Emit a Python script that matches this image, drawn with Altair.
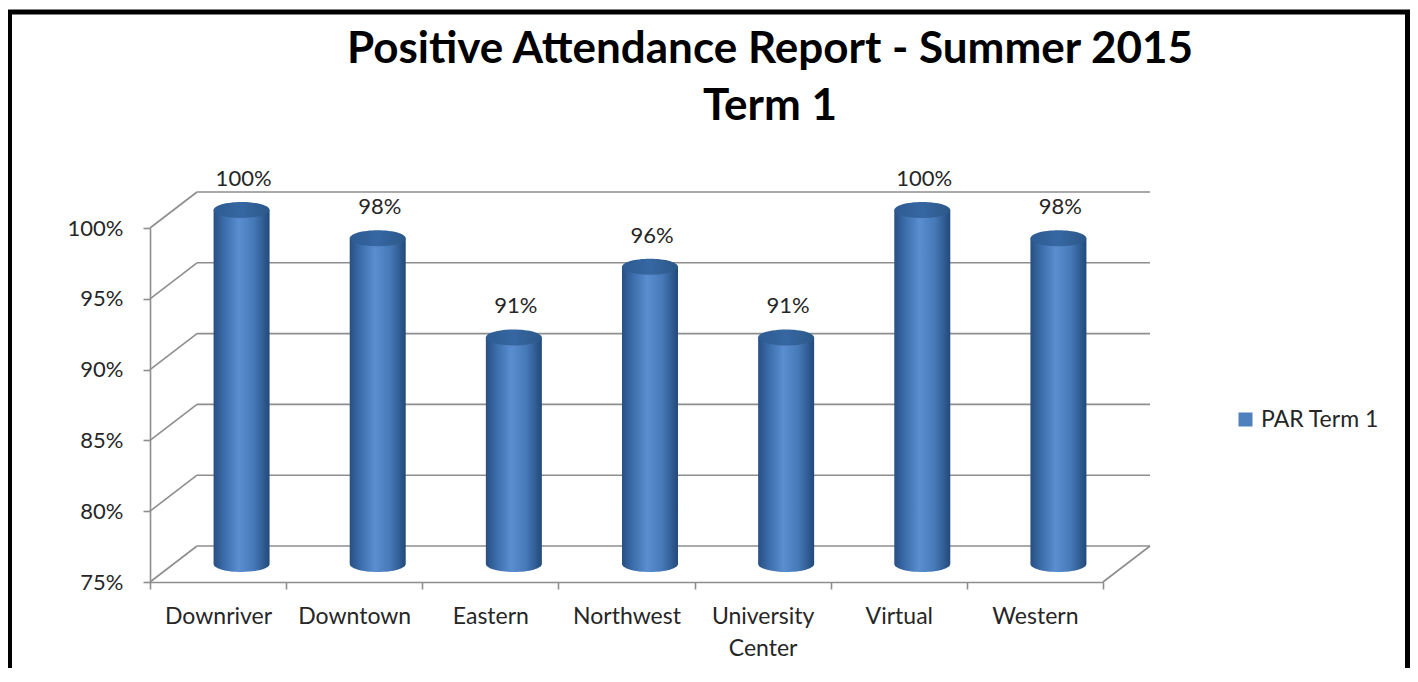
import altair as alt
import pandas as pd

# ---- data ----
categories = ["Downriver", "Downtown", "Eastern", "Northwest",
              "University Center", "Virtual", "Western"]
values = [100, 98, 91, 96, 91, 100, 98]
series = ["PAR Term 1"] * len(categories)
y_ticks = [75, 80, 85, 90, 95, 100]
title_lines = ["Positive Attendance Report - Summer 2015", "Term 1"]

df = pd.DataFrame({"site": categories, "pct": values, "series": series})
grid_df = pd.DataFrame({"tick": y_ticks})

# ---- layout / style ----
W, H = 953, 354
DX, DY = 47, -36          # depth of the 3D box
BX, BY = DX / 2, DY / 2   # bars sit at mid depth
FONT = "Lato"
GRID = "#8e8e8e"
TXT = "#262626"
BAR_W = 56

bar_grad = {
    "gradient": "linear", "x1": 0, "x2": 1, "y1": 0, "y2": 0,
    "stops": [
        {"offset": 0.0, "color": "#284f82"},
        {"offset": 0.18, "color": "#3a6ba9"},
        {"offset": 0.45, "color": "#5a8ed0"},
        {"offset": 0.72, "color": "#4679b8"},
        {"offset": 1.0, "color": "#22497a"},
    ],
}
top_grad = {
    "gradient": "linear", "x1": 0, "x2": 1, "y1": 0, "y2": 0,
    "stops": [
        {"offset": 0.0, "color": "#2d5b92"},
        {"offset": 0.5, "color": "#3767a2"},
        {"offset": 1.0, "color": "#2b5889"},
    ],
}
k = 0.286
c = 0.5523
ELLIPSE = (f"M -1 0 C -1 {-c*k:.4f} {-c:.4f} {-k} 0 {-k} "
           f"C {c:.4f} {-k} 1 {-c*k:.4f} 1 0 "
           f"C 1 {c*k:.4f} {c:.4f} {k} 0 {k} "
           f"C {-c:.4f} {k} -1 {c*k:.4f} -1 0 Z")
HALF = (f"M -1 0 C -1 {c*k:.4f} {-c:.4f} {k} 0 {k} "
        f"C {c:.4f} {k} 1 {c*k:.4f} 1 0 Z")

xscale = alt.Scale(domain=categories, paddingInner=0, paddingOuter=0)
yscale = alt.Scale(domain=[75, 100], nice=False, zero=False)

xaxis = alt.Axis(
    title=None, labelAngle=0, labelFont=FONT, labelFontSize=23, labelColor=TXT,
    domainColor=GRID, domainWidth=1.6, tickColor=GRID, tickWidth=1.6, tickSize=7,
    tickBand="extent", labelPadding=16, labelLineHeight=32,
    labelExpr="datum.value == 'University Center' ? ['University', 'Center'] : datum.value",
)
yaxis = alt.Axis(
    title=None, values=y_ticks, grid=False, labelFont=FONT, labelFontSize=22,
    labelColor=TXT, domainColor=GRID, domainWidth=1.6, tickColor=GRID,
    tickWidth=1.6, tickSize=7, labelPadding=20, labelExpr="datum.value + '%'",
)

X = alt.X("site:N", scale=xscale, axis=xaxis)

def Yf(field):
    return alt.Y(f"{field}:Q", scale=yscale, axis=yaxis)

# back wall gridlines
back = alt.Chart(grid_df).mark_rule(color=GRID, strokeWidth=1.6, yOffset=DY).encode(
    y=Yf("tick"), x=alt.value(DX), x2=alt.value(W + DX)
)
# left side-wall diagonals
diag = alt.Chart(grid_df).mark_rule(color=GRID, strokeWidth=1.6, y2Offset=DY).encode(
    y=Yf("tick"), y2=alt.Y2("tick"), x=alt.value(0), x2=alt.value(DX)
)
# right floor edge
floor_r = alt.Chart(grid_df).transform_filter("datum.tick == 75").mark_rule(
    color=GRID, strokeWidth=1.6, y2Offset=DY
).encode(y=Yf("tick"), y2=alt.Y2("tick"), x=alt.value(W), x2=alt.value(W + DX))

base = alt.Chart(df)

bottom = base.mark_point(shape=HALF, size=BAR_W ** 2, filled=True, fill=bar_grad,
                         opacity=1, strokeWidth=0, xOffset=BX, yOffset=BY).encode(
    x=X, y=alt.datum(75)
)
bars = base.mark_bar(width=BAR_W, fill=bar_grad, xOffset=BX, yOffset=BY,
                     y2Offset=BY).encode(x=X, y=Yf("pct"), y2=alt.datum(75))
top = base.mark_point(shape=ELLIPSE, size=BAR_W ** 2, filled=True, fill=top_grad,
                      opacity=1, strokeWidth=0, xOffset=BX, yOffset=BY).encode(
    x=X, y=Yf("pct")
)
labels = base.transform_calculate(label="datum.pct + '%'").mark_text(
    font=FONT, fontSize=22, color=TXT, xOffset=BX + 2, yOffset=BY, dy=-31,
    baseline="middle"
).encode(x=X, y=Yf("pct"), text="label:N")

legend_layer = base.mark_square(size=0, opacity=1).encode(
    x=X, y=Yf("pct"),
    color=alt.Color("series:N", scale=alt.Scale(range=["#4f81bd"]),
                    legend=alt.Legend(title=None, orient="none", legendX=1084,
                                      legendY=180, symbolType="square",
                                      symbolSize=196, symbolStrokeWidth=0,
                                      labelFont=FONT, labelFontSize=23,
                                      labelColor=TXT, padding=0, labelOffset=4)),
)

frame = alt.Chart(pd.DataFrame({"k": [0]})).mark_rect(
    fillOpacity=0, stroke="black", strokeWidth=5
).encode(x=alt.value(-140.5), x2=alt.value(1257.5), y=alt.value(-216), y2=alt.value(470))

chart = alt.layer(back, diag, floor_r, bottom, bars, top, labels, legend_layer, frame).properties(
    width=W, height=H,
    autosize="none",
    padding={"left": 142, "top": 220, "right": 307, "bottom": 86},
    background="white",
    title=alt.TitleParams(text=title_lines, font=FONT, fontSize=44, fontWeight="bold",
                          color="black", anchor="middle", dx=143.5, offset=-119,
                          lineHeight=57),
).configure_view(stroke=None)

chart.save("out.html", embed_options={"renderer": "svg", "actions": False})
